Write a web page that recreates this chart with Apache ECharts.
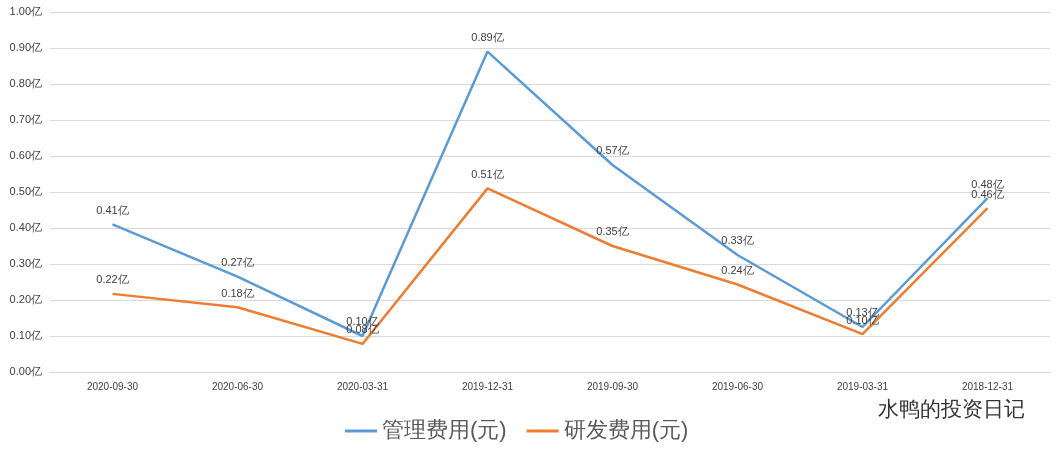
<!DOCTYPE html><html><head><meta charset="utf-8"><script src="https://cdn.jsdelivr.net/npm/echarts@6/dist/echarts.min.js"></script>
<style>html,body{margin:0;background:#fff}#c{width:1060px;height:459px}</style></head><body><div id="c"></div><script>
const categories=['2020-09-30','2020-06-30','2020-03-31','2019-12-31','2019-09-30','2019-06-30','2019-03-31','2018-12-31'];
const mgmt=[0.41,0.265,0.10,0.89,0.575,0.325,0.125,0.483];
const rd=[0.217,0.18,0.078,0.51,0.35,0.243,0.105,0.455];
const fmt=v=>v.toFixed(2)+'亿';
const lbl={show:true,position:'top',fontSize:11,color:'#404040',formatter:p=>fmt(p.value),distance:8};
const c=echarts.init(document.getElementById('c'));
c.setOption({animation:false,
grid:{left:50,right:10,top:12,bottom:87},
xAxis:{type:'category',data:categories,axisLine:{lineStyle:{color:'#d9d9d9'}},axisTick:{show:false},axisLabel:{fontSize:10,color:'#404040',margin:10}},
yAxis:{type:'value',min:0,max:1,interval:0.1,axisLabel:{formatter:v=>fmt(v),fontSize:11,color:'#404040'},splitLine:{lineStyle:{color:'#d9d9d9'}}},
legend:{bottom:12,left:340,itemWidth:32,itemHeight:3,itemGap:20,icon:'rect',textStyle:{fontSize:22,color:'#595959'}},
graphic:[{type:'text',right:35,bottom:38,style:{text:'水鸭的投资日记',fontSize:21,fill:'#333'}}],
series:[
{name:'管理费用(元)',type:'line',data:mgmt,symbol:'circle',symbolSize:0.1,showAllSymbol:true,lineStyle:{width:2.5,color:'#5b9bd5'},itemStyle:{color:'#5b9bd5'},label:lbl},
{name:'研发费用(元)',type:'line',data:rd,symbol:'circle',symbolSize:0.1,showAllSymbol:true,lineStyle:{width:2.5,color:'#ed7d31'},itemStyle:{color:'#ed7d31'},label:lbl}
]});
</script></body></html>
